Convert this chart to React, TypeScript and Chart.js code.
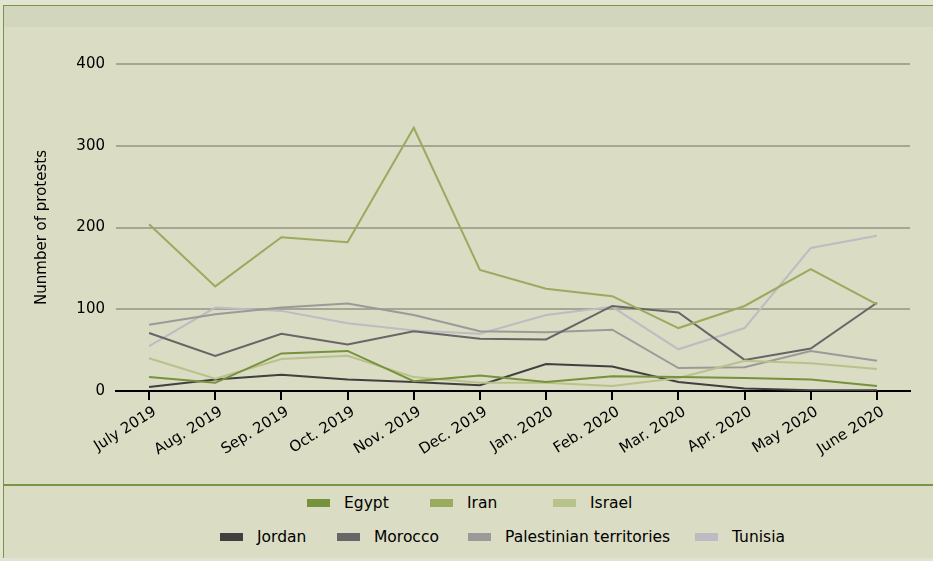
import React, { useEffect, useRef } from "react";
import { Chart, registerables } from "chart.js";

Chart.register(...registerables);

const months = [
  "July 2019", "Aug. 2019", "Sep. 2019", "Oct. 2019", "Nov. 2019", "Dec. 2019",
  "Jan. 2020", "Feb. 2020", "Mar. 2020", "Apr. 2020", "May 2020", "June 2020",
];

const egypt = [17, 10, 46, 49, 12, 19, 11, 18, 17, 16, 14, 6];
const iran = [204, 128, 188, 182, 322, 148, 125, 116, 77, 104, 149, 106];
const israel = [40, 15, 39, 43, 17, 10, 10, 6, 16, 37, 34, 27];
const jordan = [5, 14, 20, 14, 11, 7, 33, 30, 11, 3, 1, 1];
const morocco = [71, 43, 70, 57, 73, 64, 63, 104, 96, 38, 52, 108];
const palestine = [81, 94, 102, 107, 93, 73, 72, 75, 28, 29, 49, 37];
const tunisia = [55, 102, 98, 83, 74, 70, 93, 103, 51, 77, 175, 190];

const seriesNames = ["Egypt", "Iran", "Israel", "Jordan", "Morocco", "Palestinian territories", "Tunisia"];
const seriesValues = [egypt, iran, israel, jordan, morocco, palestine, tunisia];
const seriesColors = ["#76923c", "#9aaa5f", "#b8c28c", "#404040", "#666666", "#9a9a9a", "#bcbcc2"];

const yTicks = [0, 100, 200, 300, 400];
const yTitle = "Nunmber of protests";

const legendRow1 = [0, 1, 2];
const legendRow2 = [3, 4, 5, 6];

const FONT = "'DejaVu Sans', Verdana, sans-serif";

function LegendItem({ idx, width }: { idx: number; width?: number }) {
  return (
    <div style={{ display: "flex", alignItems: "center", width: width, flex: "none" }}>
      <div style={{ width: 23, height: 8, background: seriesColors[idx], marginRight: 14 }} />
      <span style={{ fontFamily: FONT, fontSize: 15.5, color: "#000", whiteSpace: "nowrap" }}>
        {seriesNames[idx]}
      </span>
    </div>
  );
}

export default function App() {
  const ref = useRef<HTMLCanvasElement | null>(null);

  useEffect(() => {
    document.body.style.margin = "0";
    const ctx = ref.current!.getContext("2d")!;
    const chart = new Chart(ctx, {
      type: "line",
      data: {
        labels: months,
        datasets: seriesNames.map((name, i) => ({
          label: name,
          data: seriesValues[i],
          borderColor: seriesColors[i],
          backgroundColor: seriesColors[i],
          borderWidth: 2,
          pointRadius: 0,
          tension: 0,
          fill: false,
        })),
      },
      options: {
        animation: false,
        responsive: false,
        devicePixelRatio: 1,
        layout: { padding: { top: 37, right: 23, left: 0, bottom: 0 } },
        plugins: {
          legend: { display: false },
          tooltip: { enabled: false },
        },
        scales: {
          x: {
            type: "category",
            offset: true,
            grid: {
              offset: false,
              drawOnChartArea: false,
              drawTicks: true,
              tickLength: 9,
              color: "#000",
              lineWidth: 2,
            },
            border: { display: true, color: "#000", width: 2 },
            ticks: {
              maxRotation: 32,
              minRotation: 32,
              autoSkip: false,
              color: "#000",
              padding: 3,
              labelOffset: 6,
              font: { family: FONT, size: 15 },
            },
            afterFit: (scale: any) => {
              scale.height = 93;
            },
          },
          y: {
            min: 0,
            max: 400,
            afterBuildTicks: (scale: any) => {
              scale.ticks = yTicks.map((v) => ({ value: v }));
            },
            grid: { color: "#a5a794", lineWidth: 2, drawTicks: false },
            border: { display: false },
            ticks: {
              color: "#000",
              padding: 11,
              font: { family: FONT, size: 15 },
            },
            title: {
              display: true,
              text: yTitle,
              color: "#000",
              font: { family: FONT, size: 15 },
              padding: { top: 29, bottom: 0 },
            },
            afterFit: (scale: any) => {
              scale.width = 112;
            },
          },
        },
      },
    });
    return () => chart.destroy();
  }, []);

  return (
    <div style={{ position: "relative", width: 933, height: 561, background: "#e2e4d3", overflow: "hidden" }}>
      <div style={{ position: "absolute", left: 3, top: 5, right: 0, bottom: 3, background: "#dadcc3", borderLeft: "1px solid #7a9446", borderTop: "1px solid #7a9446" }} />
      <div style={{ position: "absolute", left: 4, top: 6, right: 0, height: 21, background: "#d1d6bc" }} />
      <div style={{ position: "absolute", left: 4, top: 27 }}>
        <canvas ref={ref} width={929} height={457} style={{ width: 929, height: 457, display: "block" }} />
      </div>
      <div style={{ position: "absolute", left: 4, right: 0, top: 484, height: 2, background: "#7a9446" }} />
      <div style={{ position: "absolute", left: 307, top: 493, height: 20, display: "flex", alignItems: "center" }}>
        {legendRow1.map((i, k) => (
          <LegendItem key={i} idx={i} width={k < legendRow1.length - 1 ? 123 : undefined} />
        ))}
      </div>
      <div style={{ position: "absolute", left: 220, top: 527, height: 20, display: "flex", alignItems: "center" }}>
        {legendRow2.map((i, k) => (
          <LegendItem key={i} idx={i} width={[117, 131, 227][k]} />
        ))}
      </div>
    </div>
  );
}
